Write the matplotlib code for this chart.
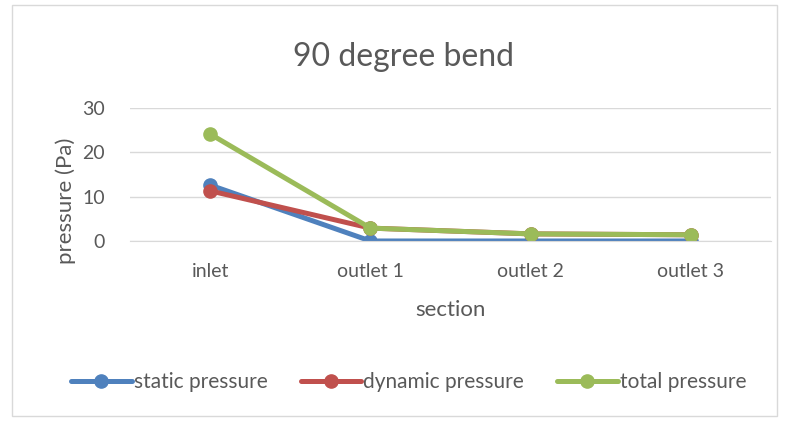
import matplotlib.pyplot as plt
from matplotlib.patches import Rectangle

sections = ["inlet", "outlet 1", "outlet 2", "outlet 3"]
static_pressure = [12.6, 0.0, 0.0, 0.0]
dynamic_pressure = [11.3, 2.9, 1.6, 1.4]
total_pressure = [24.1, 2.9, 1.6, 1.4]

series = [
    ("static pressure", static_pressure, "#4f81bd"),
    ("dynamic pressure", dynamic_pressure, "#c0504d"),
    ("total pressure", total_pressure, "#9bbb59"),
]

plt.rcParams["font.family"] = ["Lato", "DejaVu Sans"]
text_color = "#595959"

fig = plt.figure(figsize=(7.89, 4.21), dpi=100)
fig.patches.append(Rectangle((0.015, 0.012), 0.97, 0.975, transform=fig.transFigure,
                             fill=False, edgecolor="#d9d9d9", linewidth=1))
ax = fig.add_axes([0.165, 0.4276, 0.812, 0.316])

x = list(range(len(sections)))
for label, values, color in series:
    ax.plot(x, values, color=color, linewidth=3.6, marker="o", markersize=9.5,
            label=label, solid_capstyle="round")

ax.set_xlim(-0.5, len(sections) - 0.5)
ax.set_ylim(0, 30)
ax.set_yticks([0, 10, 20, 30])
ax.set_xticks(x)
ax.set_xticklabels(sections)
ax.yaxis.grid(True, color="#d9d9d9", linewidth=1)
ax.set_axisbelow(True)
for side in ["top", "right", "left"]:
    ax.spines[side].set_visible(False)
ax.spines["bottom"].set_color("#d9d9d9")
ax.tick_params(length=0, labelsize=14, colors=text_color)
ax.tick_params(axis="y", pad=18)
ax.tick_params(axis="x", pad=16)
ax.set_xlabel("section", fontsize=16, color=text_color, labelpad=14)
ax.set_ylabel("pressure (Pa)", fontsize=16, color=text_color)
ax.yaxis.set_label_coords(-0.085, 0.3)

fig.text(0.512, 0.865, "90 degree bend", ha="center", va="center", fontsize=23, color=text_color)

fig.legend(loc="center", bbox_to_anchor=(0.518, 0.093), ncol=3, frameon=False,
           fontsize=15, labelcolor=text_color, handlelength=2.9, handletextpad=0.1,
           columnspacing=1.6)

fig.savefig("out.png", dpi=100)
